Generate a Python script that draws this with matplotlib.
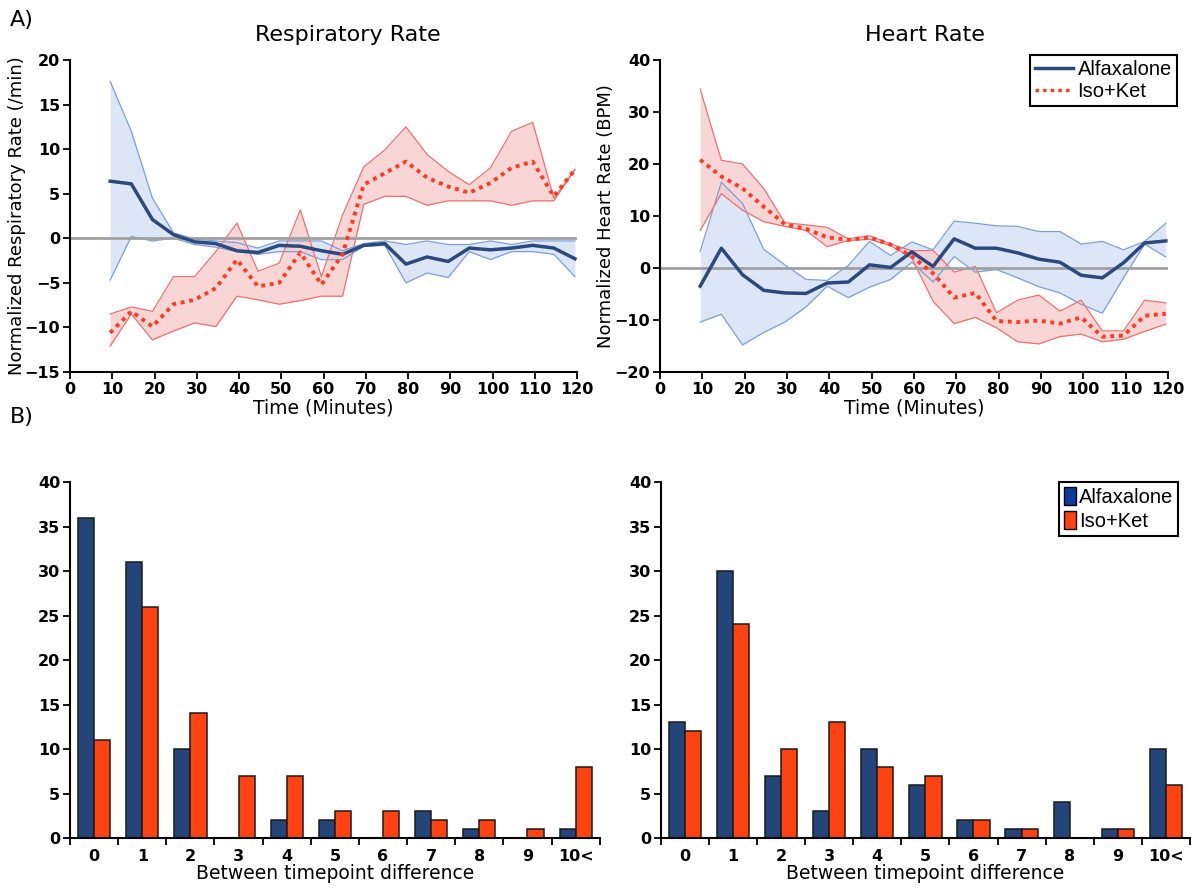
import numpy as np
import matplotlib.pyplot as plt
from matplotlib.patches import Patch
from matplotlib.lines import Line2D

# time points (minutes)
times = [9.5, 14.5, 19.5, 24.5, 29.5, 34.5, 39.5, 44.5, 49.5, 54.5, 59.5, 64.5,
         69.5, 74.5, 79.5, 84.5, 89.5, 94.5, 99.5, 104.5, 109.5, 114.5, 119.5]

# respiratory rate
rr_alfa = [6.4, 6.1, 2.1, 0.4, -0.4, -0.6, -1.4, -1.6, -0.8, -0.9, -1.4, -1.8,
           -0.8, -0.6, -2.9, -2.1, -2.6, -1.1, -1.3, -1.1, -0.8, -1.1, -2.3]
rr_alfa_hi = [17.6, 12.0, 4.5, 0.6, -0.1, -0.3, -0.5, -1.1, -0.3, -0.3, -0.3, -1.4,
              -0.6, -0.3, -0.7, -0.3, -0.7, -0.7, -0.3, -0.7, -0.3, -0.3, -0.3]
rr_alfa_lo = [-4.7, 0.2, -0.3, 0.0, -0.7, -1.0, -1.5, -1.8, -1.5, -1.5, -2.4, -2.4,
              -0.9, -0.8, -5.0, -3.9, -4.4, -1.5, -2.4, -1.5, -1.5, -1.8, -4.3]
rr_iso = [-10.6, -8.2, -9.9, -7.4, -6.9, -5.6, -2.4, -5.4, -5.0, -1.6, -5.2, -1.8,
          6.0, 7.3, 8.6, 6.8, 5.8, 5.1, 6.2, 7.9, 8.6, 4.7, 7.7]
rr_iso_hi = [-8.5, -7.7, -8.2, -4.3, -4.3, -1.5, 1.7, -3.7, -2.8, 3.2, -4.3, 2.6,
             8.0, 9.9, 12.5, 9.4, 7.5, 6.0, 7.9, 12.0, 13.0, 4.5, 7.7]
rr_iso_lo = [-12.1, -8.5, -11.4, -10.4, -9.5, -9.9, -6.5, -6.9, -7.4, -7.0, -6.5, -6.5,
             3.8, 4.7, 4.7, 3.7, 4.2, 4.2, 4.2, 3.7, 4.2, 4.2, 7.7]

# heart rate
hr_alfa = [-3.5, 3.8, -1.3, -4.3, -4.8, -4.9, -2.9, -2.7, 0.6, 0.1, 3.1, 0.3,
           5.6, 3.8, 3.8, 2.9, 1.7, 1.1, -1.4, -1.9, 1.0, 4.8, 5.2]
hr_alfa_hi = [3.2, 16.5, 12.4, 3.6, 0.6, -2.2, -2.4, 0.5, 5.1, 2.4, 5.0, 3.5,
              9.0, 8.6, 8.1, 8.0, 7.0, 7.0, 4.6, 5.1, 3.5, 5.1, 8.6]
hr_alfa_lo = [-10.4, -8.9, -14.8, -12.4, -10.4, -7.5, -3.5, -5.7, -3.7, -2.2, 1.1, -2.7,
              2.2, -0.8, -0.3, -1.9, -3.6, -4.8, -7.0, -8.7, -1.9, 4.6, 2.1]
hr_iso = [20.8, 17.6, 15.3, 11.8, 8.4, 7.5, 5.9, 5.4, 5.9, 4.5, 2.2, -1.0,
          -5.7, -4.8, -10.2, -10.4, -10.1, -10.7, -9.5, -13.2, -13.0, -9.2, -8.8]
hr_iso_hi = [34.4, 20.7, 20.0, 15.3, 8.7, 8.3, 7.8, 5.6, 6.2, 4.6, 3.3, 3.4,
             -0.8, 0.3, -8.6, -6.2, -5.2, -8.3, -6.2, -12.1, -12.1, -6.2, -6.7]
hr_iso_lo = [7.2, 14.3, 11.1, 8.9, 8.0, 7.2, 4.1, 5.3, 5.5, 4.3, 1.9, -6.4,
             -10.7, -9.5, -11.5, -14.2, -14.6, -13.2, -12.7, -14.2, -13.7, -12.2, -10.8]

# between timepoint difference counts
diff_labels = ['0', '1', '2', '3', '4', '5', '6', '7', '8', '9', '10<']
rr_alfa_counts = [36, 31, 10, 0, 2, 2, 0, 3, 1, 0, 1]
rr_iso_counts = [11, 26, 14, 7, 7, 3, 3, 2, 2, 1, 8]
hr_alfa_counts = [13, 30, 7, 3, 10, 6, 2, 1, 4, 1, 10]
hr_iso_counts = [12, 24, 10, 13, 8, 7, 2, 1, 0, 1, 6]

BLUE = '#2a4a7f'
BLUE_FILL = '#dae4f5'
BLUE_EDGE = '#7aa0dc'
RED = '#ff3b1f'
RED_FILL = '#f8c9c9'
RED_EDGE = '#f07070'
BAR_BLUE = '#23457a'
BAR_RED = '#ff4310'

plt.rcParams['font.family'] = 'DejaVu Sans'

fig = plt.figure(figsize=(11.93, 8.88), dpi=100)


def style_axes(ax):
    ax.spines['top'].set_visible(False)
    ax.spines['right'].set_visible(False)
    ax.spines['left'].set_linewidth(1.5)
    ax.spines['bottom'].set_linewidth(1.5)
    ax.tick_params(direction='out', length=5, width=1.3, labelsize=11.5, pad=2)
    for lab in ax.get_xticklabels() + ax.get_yticklabels():
        lab.set_fontweight('bold')


def line_panel(ax, alfa, alfa_hi, alfa_lo, iso, iso_hi, iso_lo, ylim, yticks, ylabel, ylab_x):
    t = np.array(times)
    ax.fill_between(t, alfa_lo, alfa_hi, color=BLUE_FILL, alpha=0.9, lw=0, zorder=1)
    ax.fill_between(t, iso_lo, iso_hi, color=RED_FILL, alpha=0.75, lw=0, zorder=1.5)
    ax.plot(t, alfa_hi, color=BLUE_EDGE, lw=0.9, zorder=2)
    ax.plot(t, alfa_lo, color=BLUE_EDGE, lw=0.9, zorder=2)
    ax.plot(t, iso_hi, color=RED_EDGE, lw=0.9, zorder=2)
    ax.plot(t, iso_lo, color=RED_EDGE, lw=0.9, zorder=2)
    ax.axhline(0, color='#a0a0a0', lw=2, zorder=2.5)
    ax.plot(t, alfa, color=BLUE, lw=2.5, zorder=3)
    ax.plot(t, iso, color=RED, lw=2.8, ls=(0, (1, 1.2)), zorder=4)
    ax.set_xlim(0, 120)
    ax.set_ylim(*ylim)
    ax.set_xticks(range(0, 121, 10))
    ax.set_yticks(yticks)
    ax.set_xlabel('Time (Minutes)', fontsize=13.5, labelpad=1)
    ax.set_ylabel(ylabel, fontsize=13)
    ax.yaxis.set_label_coords(ylab_x, 0.5)
    style_axes(ax)


def bar_panel(ax, alfa, iso):
    x = np.arange(len(diff_labels))
    w = 0.335
    ax.bar(x - w / 2, alfa, w, color=BAR_BLUE, edgecolor='#1a1a1a', lw=1.1)
    ax.bar(x + w / 2, iso, w, color=BAR_RED, edgecolor='#1a1a1a', lw=1.1)
    ax.set_xlim(-0.5, len(diff_labels) - 0.5)
    ax.set_ylim(0, 40)
    ax.set_yticks(range(0, 41, 5))
    ax.set_xticks(np.arange(-0.5, len(diff_labels), 1))
    ax.set_xticklabels([])
    ax.set_xticks(x, minor=True)
    ax.set_xticklabels(diff_labels, minor=True)
    ax.tick_params(axis='x', which='minor', length=0, pad=8)
    ax.set_xlabel('Between timepoint difference', fontsize=13.5, labelpad=0)
    style_axes(ax)
    for lab in ax.get_xticklabels(minor=True):
        lab.set_fontweight('bold')
        lab.set_fontsize(11.5)


ax1 = fig.add_axes([0.0587, 0.5811, 0.425, 0.3514])
line_panel(ax1, rr_alfa, rr_alfa_hi, rr_alfa_lo, rr_iso, rr_iso_hi, rr_iso_lo,
           (-15, 20), range(-15, 21, 5), 'Normalized Respiratory Rate (/min)', -0.086)

ax2 = fig.add_axes([0.5532, 0.5811, 0.4258, 0.3514])
line_panel(ax2, hr_alfa, hr_alfa_hi, hr_alfa_lo, hr_iso, hr_iso_hi, hr_iso_lo,
           (-20, 40), range(-20, 41, 10), 'Normalized Heart Rate (BPM)', -0.089)

ax3 = fig.add_axes([0.0587, 0.0563, 0.444, 0.4009])
bar_panel(ax3, rr_alfa_counts, rr_iso_counts)

ax4 = fig.add_axes([0.554, 0.0563, 0.4434, 0.4009])
bar_panel(ax4, hr_alfa_counts, hr_iso_counts)

fig.text(0.2917, 0.961, 'Respiratory Rate', fontsize=16, ha='center', va='center')
fig.text(0.7754, 0.961, 'Heart Rate', fontsize=16, ha='center', va='center')
fig.text(0.008, 0.978, 'A)', fontsize=16, ha='left', va='center')
fig.text(0.008, 0.53, 'B)', fontsize=16, ha='left', va='center')

line_handles = [Line2D([], [], color=BLUE, lw=2.5),
                Line2D([], [], color=RED, lw=2.5, ls=(0, (1, 1.2)))]
leg1 = fig.legend(line_handles, ['Alfaxalone', 'Iso+Ket'], loc='upper right',
                  bbox_to_anchor=(0.9865, 0.938), bbox_transform=fig.transFigure,
                  borderaxespad=0, fancybox=False, framealpha=1, edgecolor='black',
                  prop={'family': 'Liberation Sans', 'size': 14.5},
                  handlelength=1.85, handletextpad=0.25, borderpad=0.25, labelspacing=0.15)
leg1.get_frame().set_linewidth(1.5)

bar_handles = [Patch(facecolor='#0a3a9a', edgecolor='black'),
               Patch(facecolor=BAR_RED, edgecolor='black')]
leg2 = fig.legend(bar_handles, ['Alfaxalone', 'Iso+Ket'], loc='upper right',
                  bbox_to_anchor=(0.9874, 0.4572), bbox_transform=fig.transFigure,
                  borderaxespad=0, fancybox=False, framealpha=1, edgecolor='black',
                  prop={'family': 'Liberation Sans', 'size': 14.5},
                  handlelength=0.6, handleheight=1.0, handletextpad=0.15,
                  borderpad=0.25, labelspacing=0.2)
leg2.get_frame().set_linewidth(1.5)

fig.savefig('out.png', dpi=100)
